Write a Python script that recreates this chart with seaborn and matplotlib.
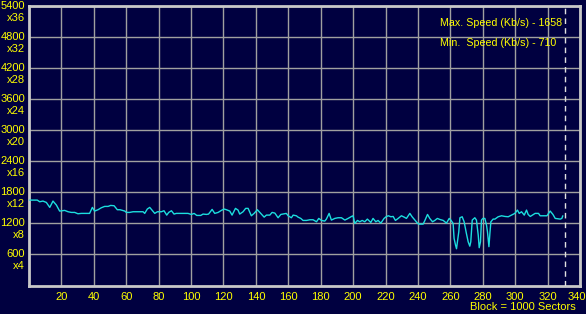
import matplotlib
matplotlib.use("Agg")
import matplotlib.pyplot as plt
import matplotlib.transforms as mtransforms
import seaborn as sns
import pandas as pd

# ---- data ----
block = [0.4, 5.1, 6.6, 8.6, 10.7, 12.8, 14.8, 16.9, 18.9, 22.0, 24.1, 26.1, 28.2, 30.2, 32.3, 37.4,
         39.1, 40.5, 42.6, 44.6, 46.7, 48.8, 50.4, 52.5, 54.5, 56.2,
         59.1, 60.1, 62.1, 64.2, 70.4, 71.4, 73.0, 74.5, 75.9, 77.6, 79.2, 81.7, 83.3, 85.0, 86.2,
         87.9, 89.5, 90.9, 98.1, 100.2, 101.9, 103.5, 106.0, 107.4, 109.5, 110.8,
         113.0, 114.6, 116.7, 118.7, 120.4, 121.8, 123.9, 125.3, 127.4, 129.0, 130.0, 132.1, 133.7,
         135.2, 137.2, 138.9, 140.9, 143.0, 145.1, 146.5, 148.6, 150.0, 151.7, 153.7, 155.4, 157.4,
         158.8, 159.9, 161.9, 163.0, 165.0,
         166.0, 167.7, 169.1, 171.2, 173.3, 175.3, 177.4, 178.8, 180.5, 182.5, 183.5, 185.2, 186.6,
         188.7, 190.7, 192.8, 194.9, 196.9, 199.0, 200.0, 201.0, 202.7, 204.1, 205.6, 207.2, 208.8,
         210.9, 212.3, 214.0, 215.4, 217.1, 219.1, 220.6,
         221.8, 223.3, 224.7, 226.1, 227.8, 229.8, 231.5, 232.9, 235.0, 236.4, 238.1, 239.7, 240.5,
         243.2, 244.3, 245.9, 247.3, 249.0, 250.4, 252.0, 253.5, 255.6, 257.6, 259.3,
         260.3, 261.7, 262.3, 263.2, 263.8, 264.4, 265.2, 265.9, 267.3, 268.5, 269.9, 271.0, 272.0,
         272.6, 273.5, 275.1, 276.1, 277.2, 277.8, 278.6, 279.2, 280.1, 281.3, 282.3, 282.9, 283.8,
         284.4, 285.0, 286.4, 287.5, 289.5, 291.6, 293.7, 295.7, 297.7, 299.8, 301.4, 302.5, 303.9,
         305.6, 307.0, 308.0,
         309.3, 311.3, 312.3, 314.4, 315.4, 319.6, 321.6, 323.3, 324.7, 327.8, 328.8, 329.4]
speed = [1650, 1650, 1618, 1631, 1605, 1509, 1631, 1554, 1438, 1451, 1425, 1412, 1412, 1386, 1393, 1393,
         1509, 1438, 1464, 1502, 1528, 1528, 1547, 1541, 1464, 1464,
         1438, 1412, 1412, 1425, 1425, 1393, 1477, 1509, 1457, 1393, 1425, 1425, 1444, 1360, 1412,
         1444, 1380, 1393, 1393, 1373, 1393, 1354, 1354, 1380, 1373, 1380,
         1470, 1393, 1412, 1451, 1477, 1464, 1438, 1360, 1490, 1457, 1380, 1425, 1490,
         1490, 1347, 1393, 1464, 1393, 1321, 1360, 1360, 1412, 1399, 1309, 1373, 1386,
         1393, 1347, 1309, 1360, 1347,
         1321, 1296, 1257, 1257, 1270, 1270, 1231, 1296, 1257, 1244, 1283, 1393, 1264,
         1296, 1309, 1309, 1264, 1296, 1334, 1347, 1199, 1257, 1231, 1257, 1231, 1283,
         1218, 1296, 1231, 1257, 1205, 1296, 1334,
         1347, 1328, 1334, 1257, 1296, 1347, 1321, 1296, 1393, 1328, 1264, 1205, 1186,
         1186, 1257, 1373, 1296, 1231, 1257, 1296, 1276, 1257, 1205, 1296,
         1264, 1199, 909, 780, 710, 844, 1038, 1309, 1328, 1231, 1006, 844, 760,
         844, 1264, 1309, 1264, 974, 730, 844, 1264, 1296, 1296, 1167, 1038, 750,
         1006, 1231, 1283, 1283, 1328, 1347, 1334, 1328, 1360, 1393, 1457, 1393, 1425,
         1360, 1457, 1373,
         1334, 1373, 1393, 1393, 1347, 1347, 1438, 1373, 1296, 1283, 1296, 1347]

y_ticks = [600, 1200, 1800, 2400, 3000, 3600, 4200, 4800, 5400]
y_mult = ["x4", "x8", "x12", "x16", "x20", "x24", "x28", "x32", "x36"]
x_ticks = [20, 40, 60, 80, 100, 120, 140, 160, 180, 200, 220, 240, 260, 280, 300, 320, 340]
end_marker = 331
max_text = "Max. Speed (Kb/s) - 1658"
min_text = "Min.  Speed (Kb/s) - 710"
x_caption = "Block = 1000 Sectors"

# ---- style ----
BG = "#000040"
YEL = "#ffff00"
GRID = "#a0a0a0"
LINE = "#1cdede"

sns.set_theme(style="dark")
plt.rcParams["font.family"] = ["Liberation Sans", "DejaVu Sans"]

fig = plt.figure(figsize=(5.86, 3.14), dpi=100, facecolor=BG)
ax = fig.add_axes([29 / 586, (314 - 285.5) / 314, 551 / 586, 279.5 / 314])
ax.set_facecolor(BG)

df = pd.DataFrame({"block": block, "speed": speed})
sns.lineplot(data=df, x="block", y="speed", ax=ax, color=LINE, linewidth=1.0, zorder=3)

ax.set_xlim(0, 340)
ax.set_ylim(0, 5400)
ax.set_xticks(x_ticks)
ax.set_yticks(y_ticks)
ax.grid(True, color=GRID, linewidth=1.0)
ax.set_xlabel("")
ax.set_ylabel("")
ax.tick_params(axis="both", length=0, labelsize=8, colors=YEL)
ax.set_yticklabels([])
ax.set_xticklabels([str(t) for t in x_ticks], color=YEL, fontsize=8)
ax.tick_params(axis="x", pad=5)

# keep the last x label inside the figure
last = ax.get_xticklabels()[-1]
last.set_transform(last.get_transform() + mtransforms.ScaledTranslation(-3 / 100, 0, fig.dpi_scale_trans))

for s in ax.spines.values():
    s.set_visible(True)
    s.set_color("#c8c8c8")
    s.set_linewidth(2.0)

# y labels (value + multiplier)
for v, m in zip(y_ticks, y_mult):
    ax.annotate(str(v), xy=(0, v), xycoords=("axes fraction", "data"),
                xytext=(-4, 0), textcoords="offset pixels",
                ha="right", va="center", color=YEL, fontsize=8, annotation_clip=False)
    ax.annotate(m, xy=(0, v), xycoords=("axes fraction", "data"),
                xytext=(-4, -12), textcoords="offset pixels",
                ha="right", va="center", color=YEL, fontsize=8, annotation_clip=False)

ax.axvline(end_marker, color="#e0e0e0", linestyle=(0, (4, 3)), linewidth=1.0, zorder=4)

ax.text((440 - 29) / 551, 0.938, max_text, transform=ax.transAxes, ha="left", va="center",
        color=YEL, fontsize=7.7, zorder=5)
ax.text((440 - 29) / 551, 0.867, min_text, transform=ax.transAxes, ha="left", va="center",
        color=YEL, fontsize=7.7, zorder=5)

fig.text(576 / 586, 1 - 307.5 / 314, x_caption, ha="right", va="center", color=YEL, fontsize=8)

fig.savefig("out.png", dpi=100, facecolor=BG)
